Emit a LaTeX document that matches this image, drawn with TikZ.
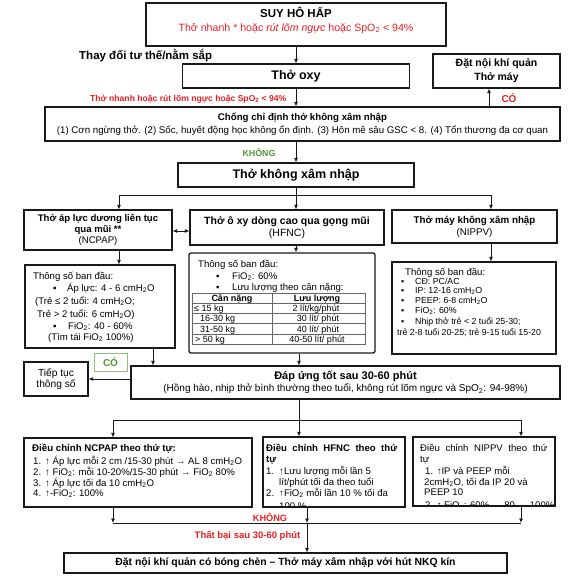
\documentclass[tikz,border=0pt]{standalone}
\usepackage{fontspec}
\setmainfont{Liberation Sans}
\usetikzlibrary{arrows.meta}
\definecolor{rd}{RGB}{232,32,36}
\definecolor{gn}{RGB}{84,150,58}
\definecolor{gnb}{RGB}{150,190,120}
\definecolor{bd}{RGB}{25,25,25}
\newcommand\sbtwo{\textsubscript{2}}
\newcommand\fsz[2]{\fontsize{#1}{#2}\selectfont}
\begin{document}
\begin{tikzpicture}[x=1pt,y=-1pt,
  box/.style={draw=bd, line width=1.1pt, inner sep=1pt, align=center},
  ln/.style={line width=0.8pt, draw=bd},
  arr/.style={ln, -{Latex[length=4.5pt,width=4pt]}},
  darr/.style={ln, {Latex[length=4.5pt,width=4pt]}-{Latex[length=4.5pt,width=4pt]}},
  tl/.style={inner sep=0pt, anchor=base west},
  tc/.style={inner sep=0pt, anchor=base},
  f9/.style={font=\fsz{9.6}{11}},
  f8/.style={font=\fsz{8.8}{10}},
  ft/.style={font=\fsz{9}{10}},
  grid/.style={draw=black!60, line width=0.5pt}
]
\useasboundingbox[fill=white] (0,0) rectangle (573,576);

% top
\node[box, minimum width=300, minimum height=43] (suy) at (296,24.5) {};
\node[inner sep=0pt, align=center, font=\fsz{10.6}{14}] (suyt) at (296,20)
  {{\fsz{11.5}{14}\bfseries SUY HÔ HẤP}\\{\color{rd}Thở nhanh * hoặc \textit{rút lõm ngực} hoặc SpO\sbtwo{} < 94\%}};
\node[tl, font=\fsz{11.5}{13}\bfseries] (doi) at (79,59) {Thay đổi tư thế/nằm sắp};
\node[box, minimum width=227, minimum height=24, font=\fsz{12.5}{14}\bfseries] (oxy) at (296,76) {Thở oxy};
\node[tl, font=\fsz{8.6}{10}\bfseries, text=rd] (red2) at (90,101) {Thở nhanh hoặc rút lõm ngực hoặc SpO\sbtwo{} < 94\%};
\node[box, minimum width=127, minimum height=34, font=\fsz{10.5}{14}\bfseries] (dat) at (496.5,71) {Đặt nội khí quản\\Thở máy};
\node[inner sep=0pt, font=\fsz{10}{11}\bfseries, text=rd] (co1) at (509,98) {CÓ};
\node[box, minimum width=515, minimum height=34, font=\fsz{9.7}{13}] (chong) at (302.5,124)
  {{\bfseries Chống chỉ định thở không xâm nhập}\\(1) Cơn ngừng thở. (2) Sốc, huyết động học không ổn định. (3) Hôn mê sâu GSC < 8. (4) Tổn thương đa cơ quan};
\node[inner sep=0pt, font=\fsz{8.8}{10}\bfseries, text=gn] (khong1) at (259,153) {KHÔNG};
\node[box, minimum width=236, minimum height=24, font=\fsz{12.5}{14}\bfseries] (tkxn) at (296,175) {Thở không xâm nhập};

\coordinate (cx) at (489,100);
\draw[arr] (suy.south) -- (suy.south |- oxy.north);
\draw[arr] (oxy.south) -- (oxy.south |- chong.north);
\draw[arr] (chong.north -| cx) -- (dat.south -| cx);
\draw[arr] (oxy.south |- chong.south) -- (tkxn.north);

% columns
\node[box, minimum width=148, minimum height=40, font=\fsz{9.6}{11}] (ncpap) at (98,230)
  {{\bfseries Thở áp lực dương liên tục}\\{\bfseries qua mũi **}\\(NCPAP)};
\node[box, minimum width=194, minimum height=35, font=\fsz{10.5}{11.5}] (hfnc) at (287,227.5)
  {{\bfseries Thở ô xy dòng cao qua gọng mũi}\\(HFNC)};
\node[box, minimum width=165, minimum height=33, font=\fsz{9.8}{12}] (nippv) at (474.5,226.5)
  {{\bfseries Thở máy không xâm nhập}\\(NIPPV)};

\coordinate (br) at (296,195);
\coordinate (brL) at (119,195);
\coordinate (brR) at (491,195);
\draw[ln] (tkxn.south) -- (br);
\draw[ln] (brL) -- (brR);
\draw[arr] (brL) -- (brL |- ncpap.north);
\draw[arr] (br) -- (br |- hfnc.north);
\draw[arr] (brR) -- (brR |- nippv.north);
\coordinate (dy) at (180,231);
\draw[darr] (ncpap.east |- dy) -- (hfnc.west |- dy);

% NCPAP params
\node[box, minimum width=150, minimum height=83] (ncp) at (100,306.5) {};
\draw[arr] (ncpap.south -| brL) -- (ncp.north -| brL);
\node[tl, f9] (n1) at (33,279) {Thông số ban đầu:};
\node[tl, f9] (n2b) at (53,291) {▪};
\node[tl, f9] (n2) at (67,291) {Áp lực: 4 - 6 cmH\sbtwo O};
\node[tl, f9] (n3) at (35,304) {(Trẻ ≤ 2 tuổi: 4 cmH\sbtwo O;};
\node[tl, f9] (n4) at (37,317) {Trẻ > 2 tuổi: 6 cmH\sbtwo O)};
\node[tl, f9] (n5b) at (53,329) {▪};
\node[tl, f9] (n5) at (68,329) {FiO\sbtwo: 40 - 60\%};
\node[tl, f9] (n6) at (48,340) {(Tìm tái FiO\sbtwo{} 100\%)};

% HFNC params
\node[box, rounded corners=2pt, line width=1.3pt, minimum width=186, minimum height=100] (hfp) at (282,303) {};
\draw[arr] (hfnc.south -| br) -- (hfp.north -| br);
\node[tl, f9] (h1) at (198,267) {Thông số ban đầu:};
\node[tl, f9] (h2b) at (216,279) {▪};
\node[tl, f9] (h2) at (232,279) {FiO\sbtwo: 60\%};
\node[tl, f9] (h3b) at (216,290) {▪};
\node[tl, f9] (h3) at (232,290) {Lưu lượng theo cân nặng:};
\draw[grid] (192,293) rectangle (365,344);
\draw[grid] (192,303) -- (365,303);
\draw[grid] (192,313.5) -- (365,313.5);
\draw[grid] (192,323.5) -- (365,323.5);
\draw[grid] (192,334) -- (365,334);
\draw[grid] (272,293) -- (272,344);
\node[tc, font=\fsz{9}{10}\bfseries] (th1) at (232,301.5) {Cân nặng};
\node[tc, font=\fsz{9}{10}\bfseries] (th2) at (317,301.5) {Lưu lượng};
\node[tl, ft] (r1a) at (194,311.5) {≤ 15 kg};
\node[tl, ft] (r2a) at (200,321.8) {16-30 kg};
\node[tl, ft] (r3a) at (200,332) {31-50 kg};
\node[tl, ft] (r4a) at (195,342.3) {> 50 kg};
\node[tc, ft] (r1b) at (316,311.5) {2 lít/kg/phút};
\node[tc, ft] (r2b) at (318,321.8) {30 lít/ phút};
\node[tc, ft] (r3b) at (318,332) {40 lít/ phút};
\node[tc, ft] (r4b) at (317,342.3) {40-50 lít/ phút};

% NIPPV params
\node[box, minimum width=164, minimum height=92] (nip) at (474,308) {};
\draw[arr] (nippv.south -| brR) -- (nip.north -| brR);
\node[tl, f9] (p0) at (405,275) {Thông số ban đầu:};
\node[tl, f8] (p1b) at (401,284) {▪};
\node[tl, f8] (p1) at (415,284) {CĐ: PC/AC};
\node[tl, f8] (p2b) at (401,293.5) {▪};
\node[tl, f8] (p2) at (415,293.5) {IP: 12-16 cmH\sbtwo O};
\node[tl, f8] (p3b) at (401,303) {▪};
\node[tl, f8] (p3) at (415,303) {PEEP: 6-8 cmH\sbtwo O};
\node[tl, f8] (p4b) at (401,313.5) {▪};
\node[tl, f8] (p4) at (415,313.5) {FiO\sbtwo: 60\%};
\node[tl, f8] (p5b) at (401,324) {▪};
\node[tl, f8] (p5) at (415,324) {Nhịp thở trẻ < 2 tuổi 25-30;};
\node[tl, f8] (p6) at (397,335) {trẻ 2-8 tuổi 20-25; trẻ 9-15 tuổi 15-20};

% response
\node[box, minimum width=429, minimum height=33, font=\fsz{10}{12}] (dap) at (345.5,382.5)
  {{\fsz{11}{12}\bfseries Đáp ứng tốt sau 30-60 phút}\\(Hồng hào, nhịp thở bình thường theo tuổi, không rút lõm ngực và SpO\sbtwo: 94-98\%)};
\node[box, minimum width=64, minimum height=34, font=\fsz{10.2}{11}] (tiep) at (56,379) {Tiếp tục\\thông số};
\node[draw=gnb, line width=0.8pt, minimum width=33, minimum height=18, inner sep=0pt, text=gn, font=\fsz{10}{11}\bfseries] (co2) at (110.5,362) {CÓ};
\coordinate (v1) at (153,300);
\coordinate (v2) at (299,300);
\draw[arr] (ncp.south -| v1) -- (dap.north -| v1);
\draw[arr] (hfp.south -| v2) -- (dap.north -| v2);
\draw[arr] (dap.west |- tiep.east) -- (tiep.east);

% adjustments
\node[box, minimum width=228, minimum height=69] (adjN) at (138,472.5) {};
\node[box, minimum width=142, minimum height=70] (adjH) at (334,472) {};
\node[box, minimum width=142, minimum height=69] (adjV) at (484,471.5) {};
\coordinate (b2) at (299,420);
\coordinate (b2L) at (113,420);
\coordinate (b2R) at (521,420);
\draw[ln] (dap.south -| b2) -- (b2);
\draw[ln] (b2L) -- (b2R);
\draw[arr] (b2L) -- (b2L |- adjN.north);
\draw[arr] (b2) -- (b2 |- adjH.north);
\draw[arr] (b2R) -- (b2R |- adjV.north);

\node[tl, font=\fsz{9.7}{11}\bfseries] (a0) at (32,451) {Điều chỉnh NCPAP theo thứ tự:};
\node[tl, f9] (a1n) at (33,464) {1.};
\node[tl, f9] (a1) at (45,464) {↑ Áp lực mỗi 2 cm /15-30 phút → AL 8 cmH\sbtwo O};
\node[tl, f9] (a2n) at (33,475) {2.};
\node[tl, f9] (a2) at (45,475) {↑ FiO\sbtwo: mỗi 10-20\%/15-30 phút → FiO\sbtwo{} 80\%};
\node[tl, f9] (a3n) at (33,486) {3.};
\node[tl, f9] (a3) at (45,486) {↑ Áp lực tối đa 10 cmH\sbtwo O};
\node[tl, f9] (a4n) at (33,496) {4.};
\node[tl, f9] (a4) at (45,496) {↑-FiO\sbtwo: 100\%};

\begin{scope}
\clip (264,438) rectangle (404,506);
\node[tl, font=\fsz{9.6}{11}\bfseries] (b0) at (266,451) {\makebox[131pt][s]{Điều\hfill chỉnh\hfill HFNC\hfill theo\hfill thứ}};
\node[tl, font=\fsz{9.6}{11}\bfseries] (b0b) at (266,462) {tự};
\node[tl, f9] (b1n) at (266,474) {1.};
\node[tl, f9] (b1) at (279,474) {↑Lưu lượng mỗi lần 5};
\node[tl, f9] (b1c) at (279,485) {lít/phút tối đa theo tuổi};
\node[tl, f9] (b2n) at (266,496) {2.};
\node[tl, f9] (b2t) at (279,496) {↑FiO\sbtwo{} mỗi lần 10 \% tối đa};
\node[tl, f9] (b2c) at (279,509) {100 \%};
\end{scope}

\begin{scope}
\clip (414,438) rectangle (554,505.5);
\node[tl, f9] (c0) at (420,451) {\makebox[127pt][s]{Điều\hfill chỉnh\hfill NIPPV\hfill theo\hfill thứ}};
\node[tl, f9] (c0b) at (420,462) {tự};
\node[tl, f9] (c1) at (425,474) {1. ↑IP và PEEP mỗi};
\node[tl, f9] (c1b) at (424,485) {2cmH\sbtwo O, tối đa IP 20 và};
\node[tl, f9] (c1c) at (424,495) {PEEP 10};
\node[tl, f9] (c2) at (425,508.5) {2. ↑ FiO\sbtwo: 60\% → 80 → 100\%};
\end{scope}

% failure
\node[box, minimum width=443, minimum height=20, font=\fsz{10.4}{12}\bfseries] (final) at (285.5,563)
  {Đặt nội khí quản có bóng chèn – Thở máy xâm nhập với hút NKQ kín};
\coordinate (m1) at (113,523);
\coordinate (m2) at (307,523);
\coordinate (m3) at (521,523);
\draw[arr] (adjN.south -| m1) -- (m1);
\draw[arr] (adjH.south -| m2) -- (m2);
\draw[arr] (adjV.south -| m3) -- (m3);
\draw[ln] (m1) -- (m3);
\draw[arr] (m2) -- (final.north -| m2);
\node[inner sep=0pt, font=\fsz{9.2}{11}\bfseries, text=rd] (khong2) at (270,517) {KHÔNG};
\node[inner sep=0pt, font=\fsz{9.5}{11}\bfseries, text=rd] (fail) at (247.5,536) {Thất bại sau 30-60 phút};
\end{tikzpicture}
\end{document}
